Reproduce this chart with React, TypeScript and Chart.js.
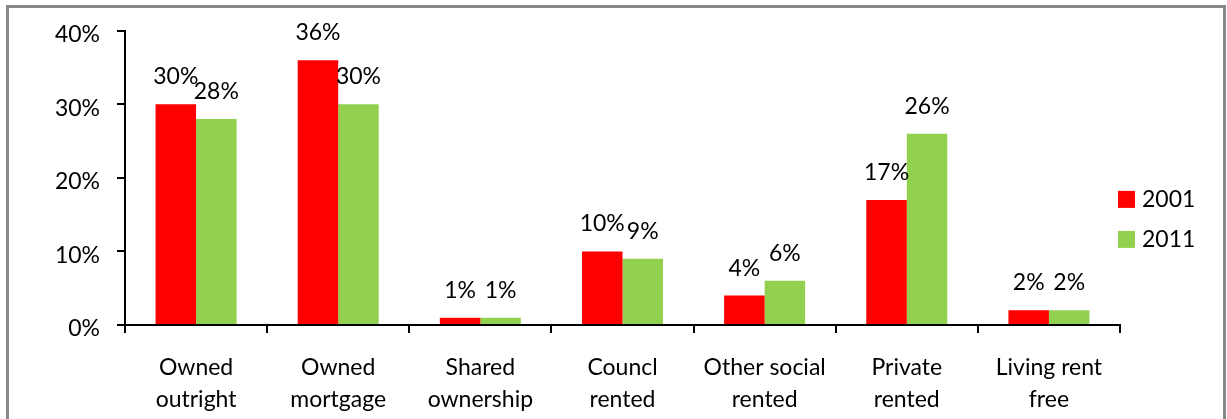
import React, { useEffect, useRef } from "react";
import { Chart, registerables } from "chart.js";

Chart.register(...registerables);

const categories: string[][] = [
  ["Owned", "outright"],
  ["Owned", "mortgage"],
  ["Shared", "ownership"],
  ["Councl", "rented"],
  ["Other social", "rented"],
  ["Private", "rented"],
  ["Living rent", "free"],
];
const series2001: number[] = [30, 36, 1, 10, 4, 17, 2];
const series2011: number[] = [28, 30, 1, 9, 6, 26, 2];
const yTicks: number[] = [0, 10, 20, 30, 40];
const seriesNames = ["2001", "2011"];
const seriesColors = ["#FF0000", "#92D050"];

const FONT = "Lato, 'Open Sans', sans-serif";
const FS = 23;

const dataLabels = {
  id: "dataLabels",
  afterDatasetsDraw(chart: any) {
    const ctx = chart.ctx;
    ctx.save();
    ctx.font = `${FS}px ${FONT}`;
    ctx.fillStyle = "#000";
    ctx.textAlign = "center";
    ctx.textBaseline = "alphabetic";
    chart.data.datasets.forEach((ds: any, i: number) => {
      const meta = chart.getDatasetMeta(i);
      meta.data.forEach((el: any, j: number) => {
        ctx.fillText(ds.data[j] + "%", el.x, el.y - 20);
      });
    });
    ctx.restore();
  },
};

const sideLegend = {
  id: "sideLegend",
  afterDraw(chart: any) {
    const ctx = chart.ctx;
    const a = chart.chartArea;
    const mid = (a.top + a.bottom) / 2;
    ctx.save();
    ctx.font = `${FS}px ${FONT}`;
    ctx.textAlign = "left";
    ctx.textBaseline = "middle";
    seriesNames.forEach((name, i) => {
      const cy = mid + 21 + i * 40;
      ctx.fillStyle = seriesColors[i];
      ctx.fillRect(a.right - 2, cy - 8, 17, 17);
      ctx.fillStyle = "#000";
      ctx.fillText(name, a.right + 22, cy + 1);
    });
    ctx.restore();
  },
};

export default function App() {
  const ref = useRef<HTMLCanvasElement | null>(null);
  useEffect(() => {
    if (!ref.current) return;
    const chart = new Chart(ref.current, {
      type: "bar",
      data: {
        labels: categories,
        datasets: [
          { label: seriesNames[0], data: series2001, backgroundColor: seriesColors[0], categoryPercentage: 0.57, barPercentage: 1 },
          { label: seriesNames[1], data: series2011, backgroundColor: seriesColors[1], categoryPercentage: 0.57, barPercentage: 1 },
        ],
      },
      options: {
        animation: false,
        responsive: false,
        maintainAspectRatio: false,
        layout: { padding: { left: 0, top: 29, right: 107, bottom: 0 } },
        plugins: { legend: { display: false }, tooltip: { enabled: false } },
        scales: {
          x: {
            grid: { display: true, drawOnChartArea: false, drawTicks: true, tickLength: 8, offset: true, color: "#000", lineWidth: 2 },
            border: { display: true, color: "#000", width: 2 },
            ticks: { color: "#000", font: { family: FONT, size: FS, lineHeight: 1.4 }, padding: 18, maxRotation: 0, autoSkip: false },
            afterFit(scale: any) { scale.height = 94; },
          },
          y: {
            min: 0,
            max: 40,
            afterBuildTicks(scale: any) { scale.ticks = yTicks.map((v) => ({ value: v })); },
            grid: { display: true, drawOnChartArea: false, drawTicks: true, tickLength: 8, color: "#000", lineWidth: 2 },
            border: { display: true, color: "#000", width: 2 },
            ticks: { color: "#000", font: { family: FONT, size: FS }, padding: 17, labelOffset: 4, callback: (v: any) => v + "%" },
            afterFit(scale: any) { scale.width = 125; },
          },
        },
      },
      plugins: [dataLabels, sideLegend],
    });
    return () => chart.destroy();
  }, []);
  return (
    <div style={{ position: "fixed", left: 0, top: 0, width: 1227, height: 419, background: "#fff", overflow: "hidden" }}>
      <canvas ref={ref} width={1227} height={419} style={{ position: "absolute", left: 0, top: 0, width: 1227, height: 419 }} />
      <div style={{ position: "absolute", left: 6, top: 5, width: 1214, height: 430, border: "3px solid #888", pointerEvents: "none" }} />
    </div>
  );
}
